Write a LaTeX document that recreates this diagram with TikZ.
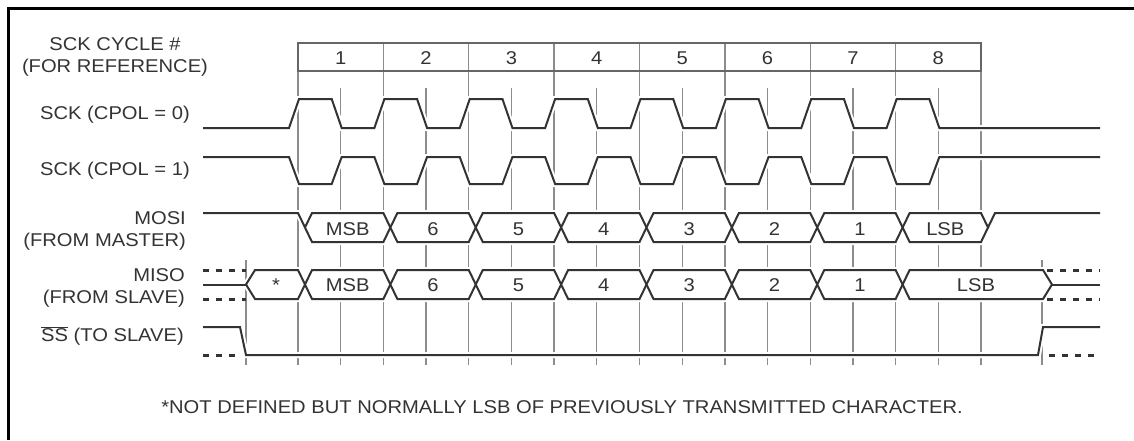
\documentclass[tikz,border=0pt]{standalone}
\usepackage{fontspec}
\setmainfont{Liberation Sans}[FakeStretch=1.09]
\newcommand\alltraces[1]{%
  % SCK CPOL=0
  \draw[#1] (203,128)
    \foreach \k [evaluate=\k as \xa using 298+85.375*\k,
                 evaluate=\k as \xb using 298+85.375*\k+42.69] in {0,...,7}
      { -- (\xa-9,128) -- (\xa+1,99) -- (\xb-9,99) -- (\xb+1,128) }
    -- (1100,128);
  % SCK CPOL=1
  \draw[#1] (203,157)
    \foreach \k [evaluate=\k as \xa using 298+85.375*\k,
                 evaluate=\k as \xb using 298+85.375*\k+42.69] in {0,...,7}
      { -- (\xa-9,157) -- (\xa+1,184) -- (\xb-9,184) -- (\xb+1,157) }
    -- (1100,157);
  % MOSI
  \draw[#1] (203,213) -- (298,213) -- (305,227.5);
  \foreach \k [evaluate=\k as \ca using 305+85.375*\k,
               evaluate=\k as \cb using 305+85.375*(\k+1)] in {0,...,7}
    { \draw[#1,fill=white] (\ca,227.5) -- (\ca+7,213) -- (\cb-7,213) -- (\cb,227.5)
        -- (\cb-7,242) -- (\ca+7,242) -- cycle; }
  \draw[#1] (988,227.5) -- (995,213) -- (1100,213);
  % MISO
  \draw[#1] (203,284.5) -- (246,284.5);
  \draw[#1,fill=white] (246,284.5) -- (255,270) -- (298,270) -- (305,284.5)
        -- (298,299) -- (255,299) -- cycle;
  \foreach \k [evaluate=\k as \ca using 305+85.375*\k,
               evaluate=\k as \cb using 305+85.375*(\k+1)] in {0,...,6}
    { \draw[#1,fill=white] (\ca,284.5) -- (\ca+7,270) -- (\cb-7,270) -- (\cb,284.5)
        -- (\cb-7,299) -- (\ca+7,299) -- cycle; }
  \draw[#1,fill=white] (902.6,284.5) -- (909.6,270) -- (1043,270) -- (1052,284.5)
        -- (1043,299) -- (909.6,299) -- cycle;
  \draw[#1] (1052,284.5) -- (1100,284.5);
  % SS
  \draw[#1] (203,327) -- (240,327) -- (246,355) -- (1038,355) -- (1043,327) -- (1100,327);
}
\begin{document}
\begin{tikzpicture}[x=1pt,y=-1pt,
  gridline/.style={draw=black!45, line width=1.3pt},
  tablebox/.style={draw=black!60, line width=1.4pt},
  halo/.style={draw=white, line width=6pt},
  sig/.style={draw=black!80, line width=2pt, line join=miter},
  dots/.style={draw=black!80, line width=3pt, dash pattern=on 6pt off 7pt},
  txt/.style={font=\fontsize{18.5}{21.8}\selectfont, inner sep=0pt, text=black!80},
]
\useasboundingbox (0,0) rectangle (1134,440);
\draw[line width=2.5pt] (8.3,440) -- (8.3,8.3) -- (1134,8.3);

% grid lines
\foreach \k [evaluate=\k as \xa using 298+85.375*\k] in {0,...,8}
  { \draw[gridline] (\xa,43) -- (\xa,365); }
\foreach \k [evaluate=\k as \xb using 298+85.375*\k+42.69] in {0,...,7}
  { \draw[gridline] (\xb,88) -- (\xb,365); }
\draw[gridline] (246,260) -- (246,365);
\draw[gridline] (1042,260) -- (1042,365);
\draw[tablebox] (298,43) rectangle (981,71);
\foreach \k/\t [evaluate=\k as \xb using 298+85.375*\k+42.69] in {0/1,1/2,2/3,3/4,4/5,5/6,6/7,7/8}
  { \node[txt, anchor=base] (cyc\k) at (\xb,64) {\t}; }

% traces
\alltraces{halo}
\alltraces{sig}

% dotted levels
\draw[dots] (203,270) -- (246,270);
\draw[dots] (203,299) -- (246,299);
\draw[dots] (1047,270) -- (1100,270);
\draw[dots] (1047,299) -- (1100,299);
\draw[dots] (203,355) -- (240,355);
\draw[dots] (1049,355) -- (1100,355);

% cell texts
\foreach \k/\t [evaluate=\k as \cm using 305+85.375*\k+42.69] in {0/MSB,1/6,2/5,3/4,4/3,5/2,6/1,7/LSB}
  { \node[txt, anchor=base] (mosi\k) at (\cm,235.7) {\t}; }
\foreach \k/\t [evaluate=\k as \cm using 305+85.375*\k+42.69] in {0/MSB,1/6,2/5,3/4,4/3,5/2,6/1}
  { \node[txt, anchor=base] (miso\k) at (\cm,291.7) {\t}; }
\node[txt, anchor=base] (misolsb) at (976,291.7) {LSB};
\node[txt, anchor=base] (misostar) at (276,291.7) {*};

% labels (base of multi-line nodes = last line)
\node[txt, anchor=base, align=center] (lcyc) at (115,72.7) {SCK CYCLE \#\\(FOR REFERENCE)};
\node[txt, anchor=base east] (lcp0) at (190,119) {SCK (CPOL = 0)};
\node[txt, anchor=base east] (lcp1) at (190,175) {SCK (CPOL = 1)};
\node[txt, anchor=base east, align=right] (lmosi) at (186,246.7) {MOSI\\(FROM MASTER)};
\node[txt, anchor=base east, align=right] (lmiso) at (185,303.3) {MISO\\(FROM SLAVE)};
\node[txt, anchor=base east] (lss) at (184,341.7) {$\overline{\mbox{SS}}$ (TO SLAVE)};
\node[txt, anchor=base] (foot) at (562,413.3) {*NOT DEFINED BUT NORMALLY LSB OF PREVIOUSLY TRANSMITTED CHARACTER.};
\end{tikzpicture}
\end{document}
